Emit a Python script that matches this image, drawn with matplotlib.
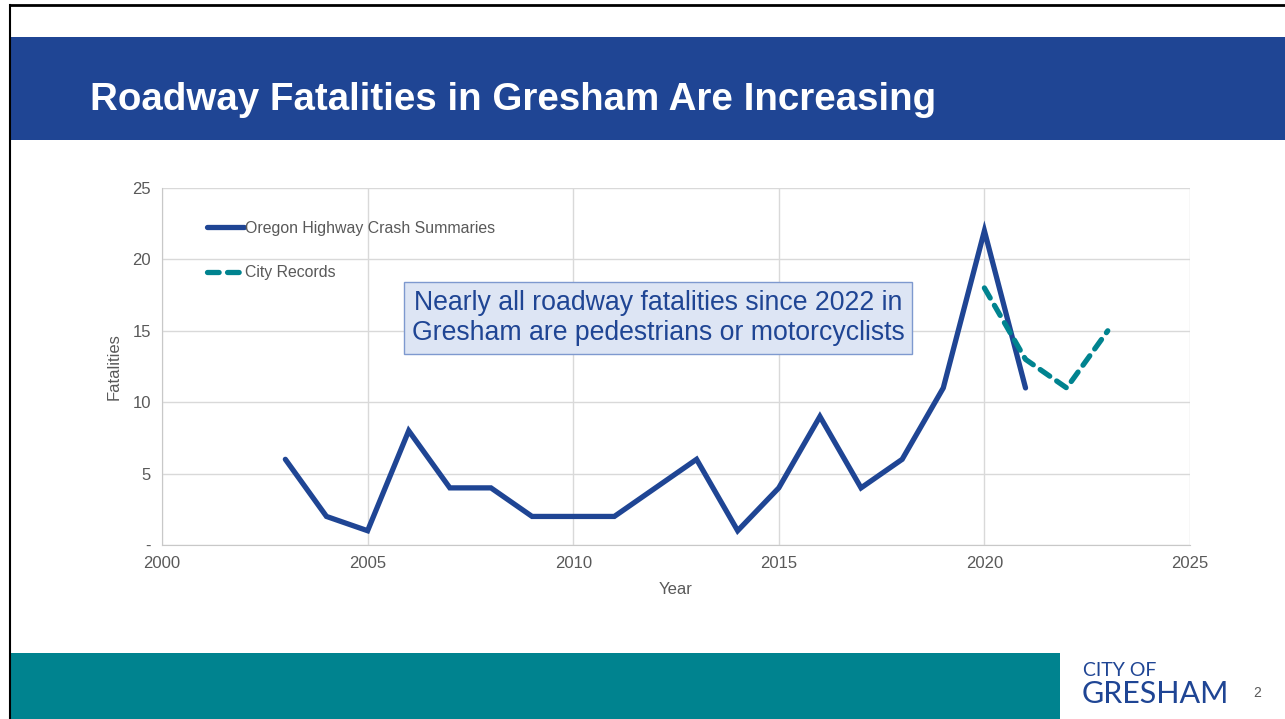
import matplotlib
matplotlib.use("Agg")
from matplotlib import pyplot as plt
from matplotlib.patches import Rectangle
from matplotlib.lines import Line2D

plt.rcParams['font.family'] = ['Liberation Sans', 'DejaVu Sans']

# data
oregon_years = [2003, 2004, 2005, 2006, 2007, 2008, 2009, 2010, 2011, 2012,
                2013, 2014, 2015, 2016, 2017, 2018, 2019, 2020, 2021]
oregon_vals = [6, 2, 1, 8, 4, 4, 2, 2, 2, 4, 6, 1, 4, 9, 4, 6, 11, 22, 11]
city_years = [2020, 2021, 2022, 2023]
city_vals = [18, 13, 11, 15]
x_ticks = [2000, 2005, 2010, 2015, 2020, 2025]
y_ticks = [0, 5, 10, 15, 20, 25]
y_labels = ['-', '5', '10', '15', '20', '25']

navy = '#1f4594'
teal = '#00838f'
grey_txt = '#595959'

W, H = 1285, 719
fig = plt.figure(figsize=(W / 100, H / 100), dpi=100)
fig.patch.set_facecolor('white')

# slide decoration (pixel coords -> figure fractions)
def box(x0, y0, x1, y1, **kw):
    fig.patches.append(Rectangle((x0 / W, 1 - y1 / H), (x1 - x0) / W, (y1 - y0) / H,
                                 transform=fig.transFigure, **kw))

box(10, 37, W, 140, facecolor='#1f4594', edgecolor='none')
box(10, 653, 1060, H, facecolor='#00838f', edgecolor='none')
fig.add_artist(Line2D([10 / W, 10 / W], [0, 1 - 5 / H], color='black', lw=1.5,
                      transform=fig.transFigure))
fig.add_artist(Line2D([10 / W, 1], [1 - 5 / H, 1 - 5 / H], color='black', lw=2,
                      transform=fig.transFigure))

fig.text(90 / W, 1 - 100 / H, 'Roadway Fatalities in Gresham Are Increasing',
         color='white', fontsize=27.7, fontweight='bold', va='center', ha='left')

fig.text(1083 / W, 1 - 671 / H, 'CITY OF', color=navy, fontsize=14,
         family=['Lato', 'DejaVu Sans'], va='center', ha='left')
fig.text(1082 / W, 1 - 694 / H, 'GRESHAM', color=navy, fontsize=22,
         family=['Lato', 'DejaVu Sans'], va='center', ha='left')
fig.text(1257 / W, 1 - 693 / H, '2', color=grey_txt, fontsize=10, va='center', ha='center')

ax = fig.add_axes([162 / W, 1 - 545 / H, (1190 - 162) / W, (545 - 188) / H])
ax.plot(oregon_years, oregon_vals, color=navy, lw=3.8, solid_capstyle='round',
        solid_joinstyle='miter', label='Oregon Highway Crash Summaries', zorder=3)
ax.plot(city_years, city_vals, color=teal, lw=3.8, ls=(0, (2.2, 1.6)),
        dash_capstyle='round', label='City Records', zorder=3)

ax.set_xlim(2000, 2025)
ax.set_ylim(0, 25)
ax.set_xticks(x_ticks)
ax.set_yticks(y_ticks)
ax.set_yticklabels(y_labels)
ax.tick_params(length=0, colors=grey_txt, labelsize=12, pad=8)
ax.grid(True, color='#d9d9d9', lw=1)
ax.set_axisbelow(True)
for s in ['top', 'right']:
    ax.spines[s].set_visible(False)
for s in ['left', 'bottom']:
    ax.spines[s].set_color('#c8c8c8')
ax.set_xlabel('Year', color=grey_txt, fontsize=12, labelpad=8)
ax.set_ylabel('Fatalities', color=grey_txt, fontsize=12, labelpad=8)

leg = ax.legend(loc='upper left', bbox_to_anchor=(0.03, 0.948), frameon=False,
                fontsize=11.4, handlelength=2.3, handletextpad=0.1, labelspacing=1.85,
                labelcolor=grey_txt)

ax.text(0.4825, 0.636, 'Nearly all roadway fatalities since 2022 in\nGresham are pedestrians or motorcyclists',
        transform=ax.transAxes, ha='center', va='center', fontsize=19.2, color=navy,
        linespacing=1.2,
        bbox=dict(boxstyle='square,pad=0.3', facecolor='#dde5f4', edgecolor='#7e99cf', lw=1))

fig.savefig('out.png', dpi=100)
